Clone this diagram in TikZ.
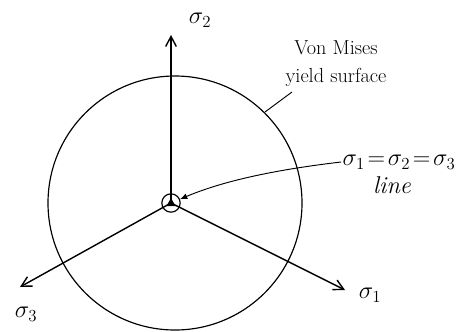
\documentclass[tikz,border=0pt]{standalone}
\usetikzlibrary{arrows.meta,positioning}
\tikzset{
  axisarrow/.style={
    -{Straight Barb[length=3mm,width=3.2mm]},
    line width=1.2pt
  },
  leader/.style={
    -{Latex[length=2.2mm,width=1.8mm]},
    line width=0.8pt
  },
  sketchlabel/.style={
    font=\LARGE,
    inner sep=1pt,
    align=center
  },
  biglabel/.style={
    sketchlabel,
    font=\huge
  },
  hubring/.style={
    circle,
    draw,
    line width=1pt,
    minimum size=0.55cm,
    inner sep=0pt
  }
}

\begin{document}
\begin{tikzpicture}[x=0.03cm,y=-0.03cm]
    \useasboundingbox (0,0) rectangle (474,331);

    % yield surface
    \draw[line width=1pt] (175,203) circle[radius=127];

    % principal axes
    \coordinate (O) at (171,203);
    \node[hubring] (hub) at (O) {};
    \fill (O) ++(0,-5) -- ++(4.5,8) -- ++(-9,0) -- cycle;

    \coordinate (tip2) at (171,35);
    \coordinate (tip3) at (20,287);
    \coordinate (tip1) at (345,290);
    \draw[axisarrow] (O) -- (tip2);
    \draw[axisarrow] (O) -- (tip3);
    \draw[axisarrow] (O) -- (tip1);

    \node[biglabel] (lab2) at (200,20) {$\sigma_2$};
    \node[biglabel] (lab3) at (26,314) {$\sigma_3$};
    \node[biglabel] (lab1) at (370,295) {$\sigma_1$};

    % annotations
    \node[sketchlabel] (vonmises) at (336,64) {Von Mises\\[2pt]yield surface};
    \coordinate (onsurf) at (265,112);
    \draw[line width=0.8pt] (onsurf) -- (292,92);

    \node[biglabel] (hydro) at (399,162) {$\sigma_1\!=\!\sigma_2\!=\!\sigma_3$};
    \node[biglabel, below=4pt of hydro, xshift=-6pt] (hydroline) {\itshape line};
    \draw[leader] (hydro.west) .. controls (290,168) and (230,178) .. (hub);
\end{tikzpicture}
\end{document}
